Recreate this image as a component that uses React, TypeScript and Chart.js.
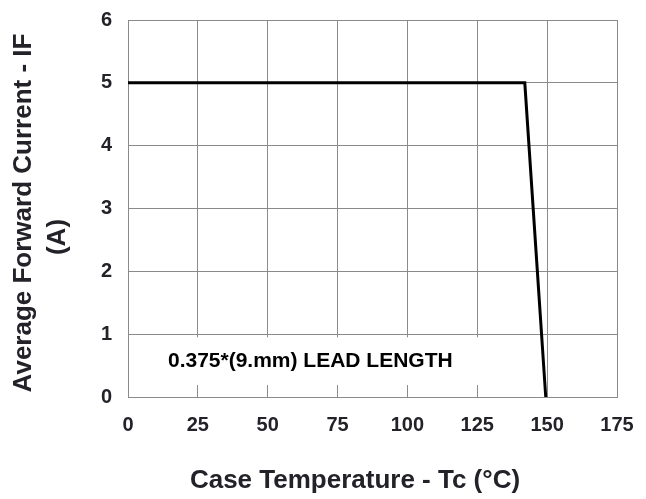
import React, { useEffect, useRef } from "react";
import { Chart, registerables } from "chart.js";

Chart.register(...registerables);

// Data
const temperatures: number[] = [0, 142, 149.5];
const currents: number[] = [5, 5, 0];
const xTicks: number[] = [0, 25, 50, 75, 100, 125, 150, 175];
const yTicks: number[] = [0, 1, 2, 3, 4, 5, 6];
const xTitle = "Case Temperature - Tc (°C)";
const yTitleLines: string[] = ["Average Forward Current - IF", "(A)"];
const annotationText = "0.375*(9.mm) LEAD LENGTH";

const FONT = "'Liberation Sans', Arial, sans-serif";
const GRID = "#8a8a8a";
const TEXT = "#222228";

const customPlugin = {
  id: "customText",
  beforeDatasetsDraw(chart: any) {
    const { ctx, scales } = chart;
    const xs = scales.x;
    const ys = scales.y;
    ctx.save();
    // white box behind the annotation
    const left = xs.getPixelForValue(2.5);
    const right = xs.getPixelForValue(147.5);
    const top = ys.getPixelForValue(0.95);
    const bottom = ys.getPixelForValue(0.19);
    ctx.fillStyle = "#ffffff";
    ctx.fillRect(left, top, right - left, bottom - top);
    ctx.fillStyle = "#000000";
    ctx.font = `bold 21px ${FONT}`;
    ctx.textAlign = "left";
    ctx.textBaseline = "middle";
    ctx.fillText(annotationText, xs.getPixelForValue(14.3), ys.getPixelForValue(0.575));
    ctx.restore();
  },
  afterDraw(chart: any) {
    const { ctx } = chart;
    ctx.save();
    ctx.fillStyle = TEXT;
    ctx.font = `bold 26px ${FONT}`;
    ctx.textAlign = "center";
    ctx.textBaseline = "middle";
    ctx.fillText(xTitle, 355, 481);
    ctx.save();
    ctx.translate(24, 213);
    ctx.rotate(-Math.PI / 2);
    ctx.fillText(yTitleLines[0], 0, 0);
    ctx.restore();
    ctx.save();
    ctx.translate(58, 237);
    ctx.rotate(-Math.PI / 2);
    ctx.fillText(yTitleLines[1], 0, 0);
    ctx.restore();
    ctx.restore();
  },
};

export default function App() {
  const ref = useRef<HTMLCanvasElement | null>(null);
  useEffect(() => {
    if (!ref.current) return;
    const chart = new Chart(ref.current, {
      type: "line",
      data: {
        datasets: [
          {
            data: temperatures.map((t, i) => ({ x: t, y: currents[i] })),
            borderColor: "#000000",
            borderWidth: 3,
            pointRadius: 0,
            borderJoinStyle: "miter",
            tension: 0,
          },
        ],
      },
      options: {
        responsive: false,
        animation: false,
        layout: { padding: { top: 20, right: 29, left: 0, bottom: 0 } },
        plugins: { legend: { display: false }, tooltip: { enabled: false } },
        scales: {
          x: {
            type: "linear",
            min: 0,
            max: 175,
            afterBuildTicks: (s: any) => {
              s.ticks = xTicks.map((v) => ({ value: v }));
            },
            afterFit: (s: any) => {
              s.height = 102;
              s.paddingLeft = 0;
              s.paddingRight = 0;
              s.paddingTop = 0;
              s.paddingBottom = 0;
            },
            ticks: {
              font: { family: FONT, size: 20, weight: "bold" },
              color: TEXT,
              padding: 16,
              maxRotation: 0,
            },
            grid: { color: GRID, lineWidth: 1, drawTicks: false },
            border: { color: GRID, width: 1 },
          },
          y: {
            type: "linear",
            min: 0,
            max: 6,
            afterBuildTicks: (s: any) => {
              s.ticks = yTicks.map((v) => ({ value: v }));
            },
            afterFit: (s: any) => {
              s.width = 128;
              s.paddingLeft = 0;
              s.paddingRight = 0;
              s.paddingTop = 0;
              s.paddingBottom = 0;
            },
            ticks: {
              font: { family: FONT, size: 20, weight: "bold" },
              color: TEXT,
              padding: 16,
            },
            grid: { color: GRID, lineWidth: 1, drawTicks: false },
            border: { color: GRID, width: 1 },
          },
        },
      },
      plugins: [customPlugin],
    } as any);
    return () => chart.destroy();
  }, []);
  return (
    <div style={{ position: "fixed", left: 0, top: 0, width: 646, height: 499, background: "#ffffff" }}>
      <canvas ref={ref} width={646} height={499} style={{ width: 646, height: 499, display: "block" }} />
    </div>
  );
}
